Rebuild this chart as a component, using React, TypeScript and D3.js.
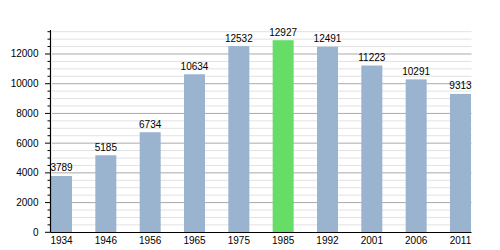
import React from "react";
import * as d3 from "d3";

const years = ["1934", "1946", "1956", "1965", "1975", "1985", "1992", "2001", "2006", "2011"];
const population = [3789, 5185, 6734, 10634, 12532, 12927, 12491, 11223, 10291, 9313];
const highlightYear = "1985";
const majorTicks = [0, 2000, 4000, 6000, 8000, 10000, 12000];
const minorTicks = d3.range(0, 14000, 500);

const W = 500;
const H = 250;

export default function App() {
  const y = d3.scaleLinear().domain([0, 13500]).range([232.3, 31.7]);
  const x = d3.scaleBand<string>().domain(years).range([51, 471]).paddingInner(0.526).paddingOuter(0);
  const axisX = 50.5;
  const font = "'Liberation Sans', Arial, sans-serif";
  return (
    <svg width={W} height={H} style={{ position: "absolute", left: 0, top: 0, background: "#fff" }}>
      {minorTicks.filter((t) => t % 2000 !== 0).map((t) => (
        <line key={"mg" + t} x1={52} x2={471.5} y1={y(t)} y2={y(t)} stroke="#e2e2e2" strokeWidth={1} />
      ))}
      {majorTicks.filter((t) => t > 0).map((t) => (
        <line key={"Mg" + t} x1={52} x2={471.5} y1={y(t)} y2={y(t)} stroke="#aaaaaa" strokeWidth={1} />
      ))}
      {years.map((yr, i) => (
        <rect
          key={yr}
          x={x(yr)}
          width={x.bandwidth()}
          y={y(population[i])}
          height={y(0) - y(population[i])}
          fill={yr === highlightYear ? "#66dd66" : "#9ab3cf"}
        />
      ))}
      {years.map((yr, i) => (
        <text
          key={"v" + yr}
          x={(x(yr) as number) + x.bandwidth() / 2}
          y={y(population[i]) - 4.5}
          textAnchor="middle"
          fontFamily={font}
          fontSize={10}
          fill="#000"
        >
          {population[i]}
        </text>
      ))}
      <line x1={axisX} x2={axisX} y1={30} y2={y(0)} stroke="#000" strokeWidth={1.2} />
      <line x1={axisX} x2={471.5} y1={y(0) + 0.2} y2={y(0) + 0.2} stroke="#000" strokeWidth={1.2} />
      {minorTicks.filter((t) => t % 2000 !== 0).map((t) => (
        <line key={"mt" + t} x1={47.5} x2={axisX} y1={y(t)} y2={y(t)} stroke="#000" strokeWidth={1} />
      ))}
      {majorTicks.map((t) => (
        <line key={"Mt" + t} x1={45} x2={axisX} y1={y(t)} y2={y(t)} stroke="#000" strokeWidth={1} />
      ))}
      {majorTicks.map((t) => (
        <text key={"yl" + t} x={38.5} y={y(t)} dy="0.35em" textAnchor="end" fontFamily={font} fontSize={10} fill="#000">
          {t}
        </text>
      ))}
      {years.map((yr) => (
        <text
          key={"xl" + yr}
          x={(x(yr) as number) + x.bandwidth() / 2}
          y={243.5}
          textAnchor="middle"
          fontFamily={font}
          fontSize={10}
          fill="#000"
        >
          {yr}
        </text>
      ))}
    </svg>
  );
}
